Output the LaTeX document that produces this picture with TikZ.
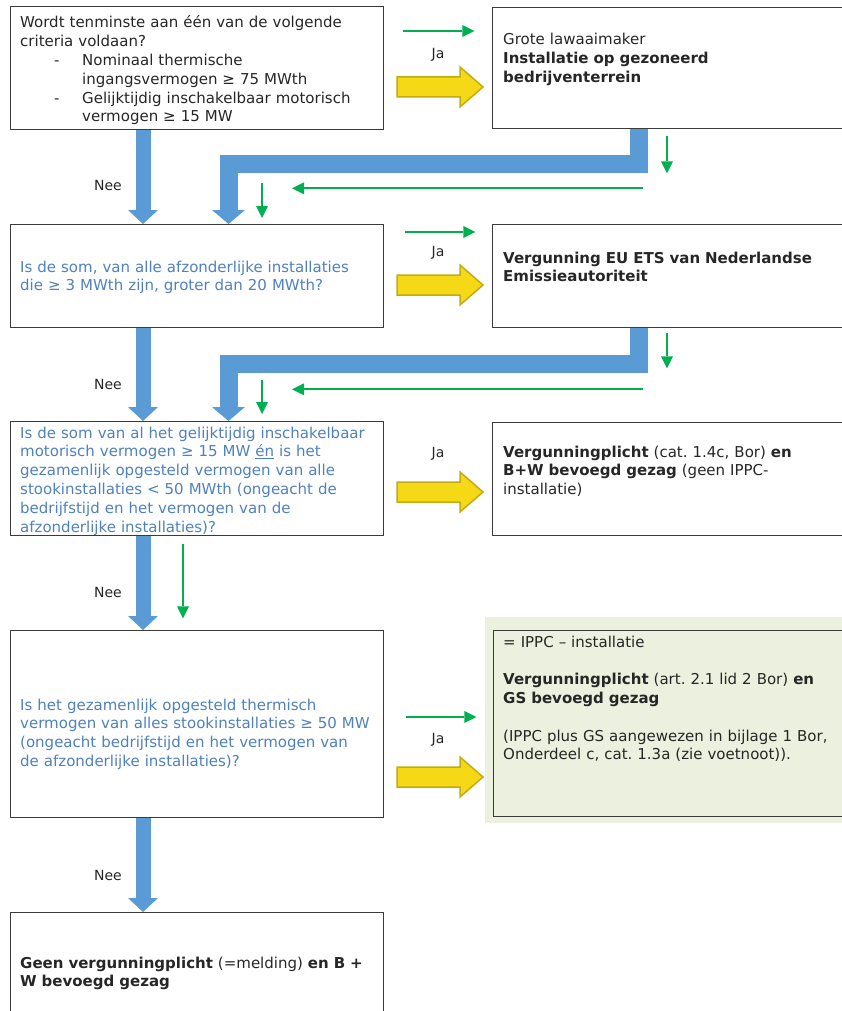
\documentclass[tikz,border=0pt]{standalone}
\usepackage{fontspec}
\setmainfont{DejaVu Sans}
\usepackage{xcolor}
\usetikzlibrary{arrows.meta}
\frenchspacing

\definecolor{vraagblauw}{HTML}{4F81BD}
\definecolor{pijlblauw}{HTML}{5B9BD5}
\definecolor{pijlgroen}{HTML}{00B050}
\definecolor{geelvlak}{HTML}{F5D916}
\definecolor{geelrand}{HTML}{C2AC14}
\definecolor{groenvlak}{HTML}{EBF1DE}
\definecolor{kader}{HTML}{3A3A3A}
\definecolor{tekstgrijs}{HTML}{262626}

\tikzset{
  kadertje/.style={draw=kader, line width=1.3pt, anchor=north west, inner sep=0pt, minimum width=373pt},
  tekst/.style={anchor=base west, inner sep=0pt, text width=350pt, align=left, font=\fontsize{15}{18.8}\selectfont, text=tekstgrijs},
  janee/.style={inner sep=0pt, font=\fontsize{14}{16}\selectfont, text=tekstgrijs},
  blauwpijl/.style={draw=pijlblauw, line width=15pt, -{Triangle[width=30pt,length=14pt,line width=0pt]}},
  groenpijl/.style={draw=pijlgroen, line width=2pt, -{Triangle[width=12pt,length=12pt,line width=0pt]}},
  geelpijl/.style={fill=geelvlak, draw=geelrand, line width=1.5pt, line join=miter}
}

\begin{document}
\begin{tikzpicture}[x=1pt,y=-1pt]
\useasboundingbox (0,0) rectangle (842,1011);
\clip (0,0) rectangle (842,1011);

% kaders links
\node[kadertje, minimum height=123pt] (vraag1) at (10,6) {};
\node[kadertje, minimum height=103pt] (vraag2) at (10,224) {};
\node[kadertje, minimum height=114pt] (vraag3) at (10,421) {};
\node[kadertje, minimum height=187pt] (vraag4) at (10,630) {};
\node[kadertje, minimum height=120pt] (vraag5) at (10,912) {};
% kaders rechts
\fill[groenvlak] (485,617) rectangle (850,823);
\node[kadertje, minimum width=360pt, minimum height=121pt] (besluit1) at (492,7) {};
\node[kadertje, minimum width=360pt, minimum height=103pt] (besluit2) at (492,224) {};
\node[kadertje, minimum width=360pt, minimum height=113pt] (besluit3) at (492,422) {};
\node[kadertje, minimum width=360pt, minimum height=186pt] (besluit4) at (493,630) {};

% teksten
\node[tekst] (tvraag1) at (20,28) {Wordt tenminste aan één van de volgende\\
criteria voldaan?\\
\makebox[62pt][l]{\hspace*{34pt}-}Nominaal thermische\\
\hspace*{62pt}ingangsvermogen ≥ 75 MWth\\
\makebox[62pt][l]{\hspace*{34pt}-}Gelijktijdig inschakelbaar motorisch\\
\hspace*{62pt}vermogen ≥ 15 MW};
\node[tekst, text=vraagblauw] (tvraag2) at (20,272) {Is de som, van alle afzonderlijke installaties\\
die ≥ 3 MWth zijn, groter dan 20 MWth?};
\node[tekst, text=vraagblauw] (tvraag3) at (20,438) {Is de som van al het gelijktijdig inschakelbaar\\
motorisch vermogen ≥ 15 MW \underline{én} is het\\
gezamenlijk opgesteld vermogen van alle\\
stookinstallaties < 50 MWth (ongeacht de\\
bedrijfstijd en het vermogen van de\\
afzonderlijke installaties)?};
\node[tekst, text=vraagblauw] (tvraag4) at (20,710) {Is het gezamenlijk opgesteld thermisch\\
vermogen van alles stookinstallaties ≥ 50 MW\\
(ongeacht bedrijfstijd en het vermogen van\\
de afzonderlijke installaties)?};
\node[tekst] (tvraag5) at (20,968) {\textbf{Geen vergunningplicht} (=melding) \textbf{en B +}\\
\textbf{W bevoegd gezag}};

\node[tekst] (tbesluit1) at (503,45) {Grote lawaaimaker\\
\textbf{Installatie op gezoneerd}\\
\textbf{bedrijventerrein}};
\node[tekst] (tbesluit2) at (503,263) {\textbf{Vergunning EU ETS van Nederlandse}\\
\textbf{Emissieautoriteit}};
\node[tekst] (tbesluit3) at (503,457) {\textbf{Vergunningplicht} (cat. 1.4c, Bor) \textbf{en}\\
\textbf{B+W bevoegd gezag} (geen IPPC-\\
installatie)};
\node[tekst] (tbesluit4) at (503,647) {= IPPC – installatie\\[18.8pt]
\textbf{Vergunningplicht} (art. 2.1 lid 2 Bor) \textbf{en}\\
\textbf{GS bevoegd gezag}\\[18.8pt]
(IPPC plus GS aangewezen in bijlage 1 Bor,\\
Onderdeel c, cat. 1.3a (zie voetnoot)).};

% Ja / Nee
\node[janee] (ja1) at (438,55) {Ja};
\node[janee] (ja2) at (438,253) {Ja};
\node[janee] (ja3) at (438,454) {Ja};
\node[janee] (ja4) at (438,740) {Ja};
\node[janee] (nee1) at (108,185) {Nee};
\node[janee] (nee2) at (108,384) {Nee};
\node[janee] (nee3) at (108,592) {Nee};
\node[janee] (nee4) at (108,875) {Nee};

% blauwe pijlen omlaag
\draw[blauwpijl] ([xshift=133pt]vraag1.south west) -- ([xshift=133pt]vraag2.north west);
\draw[blauwpijl] ([xshift=133pt]vraag2.south west) -- ([xshift=133pt]vraag3.north west);
\draw[blauwpijl] ([xshift=133pt]vraag3.south west) -- ([xshift=133pt]vraag4.north west);
\draw[blauwpijl] ([xshift=133pt]vraag4.south west) -- ([xshift=133pt]vraag5.north west);
% terug naar links
\draw[blauwpijl, line width=18pt, line join=miter, -{Triangle[width=33pt,length=14pt,line width=0pt]}] ([xshift=147pt]besluit1.south west) -- ++(0,35) -| ([xshift=218.5pt]vraag2.north west);
\draw[blauwpijl, line width=18pt, line join=miter, -{Triangle[width=33pt,length=14pt,line width=0pt]}] ([xshift=147pt]besluit2.south west) -- ++(0,36) -| ([xshift=218.5pt]vraag3.north west);

% gele pijlen
\foreach \y in {87,285,492,777}
  \draw[geelpijl] (397,\y-10) -- ++(63,0) -- ++(0,-10) -- ++(23,20) -- ++(-23,20) -- ++(0,-10) -- ++(-63,0) -- cycle;

% groene pijlen
\draw[groenpijl] ([shift={(19,25)}]vraag1.north east) -- ++(71,0);
\draw[groenpijl] ([shift={(175,7)}]besluit1.south west) -- ++(0,37);
\draw[groenpijl] ([shift={(151,59)}]besluit1.south west) -- ++(-351,0);
\draw[groenpijl] ([shift={(252,-41)}]vraag2.north west) -- ++(0,35);
\draw[groenpijl] ([shift={(21,8)}]vraag2.north east) -- ++(70,0);
\draw[groenpijl] ([shift={(175,5)}]besluit2.south west) -- ++(0,35);
\draw[groenpijl] ([shift={(151,61)}]besluit2.south west) -- ++(-351,0);
\draw[groenpijl] ([shift={(252,-41)}]vraag3.north west) -- ++(0,34);
\draw[groenpijl] ([shift={(173,8)}]vraag3.south west) -- ++(0,74);
\draw[groenpijl] ([shift={(22,87)}]vraag4.north east) -- ++(70,0);
\end{tikzpicture}
\end{document}
